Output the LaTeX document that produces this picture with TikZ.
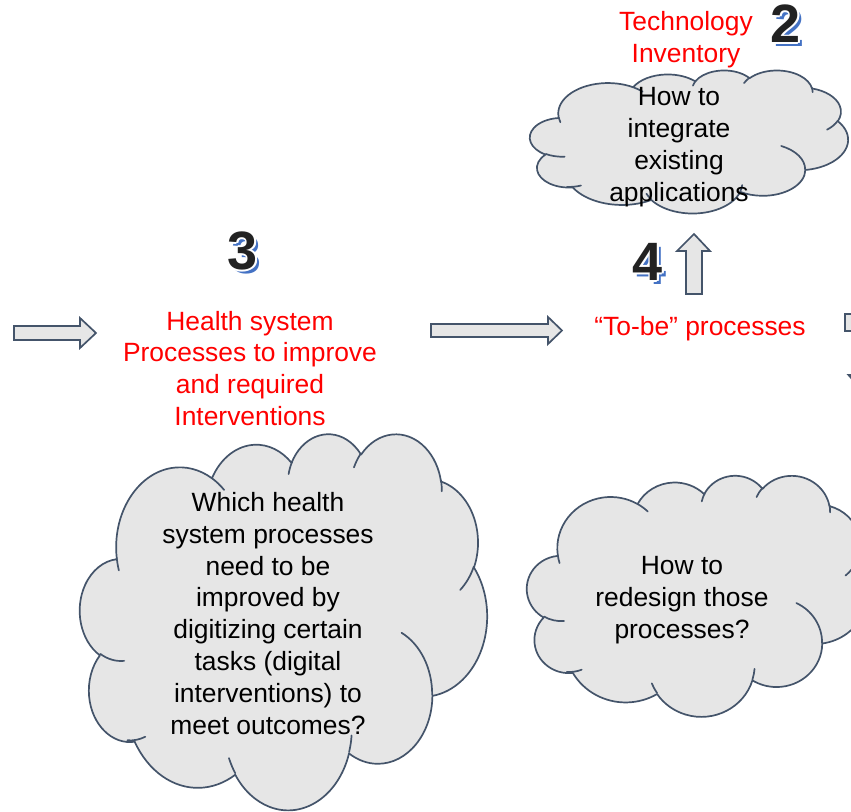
\documentclass[tikz,border=0pt]{standalone}
\usepackage{fontspec}
\setmainfont{Liberation Sans}
\usepackage{xcolor}
\definecolor{edgeblue}{HTML}{44546A}
\definecolor{puffgray}{HTML}{E6E6E6}
\definecolor{shadowblue}{HTML}{4472C4}
\definecolor{digitblack}{HTML}{222222}
\usepackage{tikz}
\usetikzlibrary{positioning}

\newcommand\labelfont{\fontsize{26.4}{31.9}\selectfont}
\newcommand\digitfont{\fontsize{54}{60}\selectfont\bfseries}

% one lobe of the cloud outline, angles as seen on the page
\newcommand\puff[4]{%
  \pgfextra{%
    \pgfmathsetmacro\puffa{atan2((#1)*sin(#3),(#2)*cos(#3))}%
    \pgfmathsetmacro\puffb{atan2((#1)*sin((#3)+(#4)),(#2)*cos((#3)+(#4)))}%
    \pgfmathsetmacro\puffb{\puffb<\puffa ? \puffb+360 : \puffb}%
    \global\let\puffa\puffa \global\let\puffb\puffb}%
  arc[x radius=#1, y radius=#2, start angle=\puffa, end angle=\puffb]}

% cloud in a box: left, top, width, height
\newcommand\puffcloud[4]{%
  \begin{scope}[shift={(#1,#2)}, xscale=#3/43.2, yscale=#4/43.2]
    \filldraw[puffbody] (3.900,14.370)
      \puff{6.753}{9.190}{-190.4875}{123.7805}
      \puff{5.333}{7.267}{-144.1024}{89.9452}
      \puff{4.365}{5.945}{-145.8079}{99.7230}
      \puff{4.857}{6.595}{-130.9861}{117.2417}
      \puff{5.333}{7.273}{-78.7089}{109.0269}
      \puff{6.775}{9.220}{-46.2673}{130.2690}
      \puff{5.785}{7.867}{0.6250}{114.0333}
      \puff{6.752}{9.215}{22.4516}{115.1726}
      \puff{7.720}{10.543}{66.2426}{75.7110}
      \puff{4.360}{5.918}{-274.9421}{146.7356}
      \puff{4.345}{5.945}{-246.8285}{152.5189}
      -- cycle;
    \draw[puffedge]
      (4.693,26.177) \puff{4.345}{5.945}{86.742}{26.4295}
      (6.928,34.899) \puff{4.360}{5.918}{73.614}{19.1417}
      (16.478,39.090) \puff{6.752}{9.215}{137.6242}{14.0811}
      (28.827,34.751) \puff{6.752}{9.215}{6.4533}{15.9984}
      (34.129,22.954) \puff{5.785}{7.867}{-70.2924}{70.9174}
      (41.798,15.354) \puff{5.333}{7.273}{30.3180}{27.7515}
      (38.324,5.426) \puff{4.857}{6.595}{-13.7443}{14.8589}
      (29.078,3.952) \puff{4.857}{6.595}{-149.1815}{18.1954}
      (22.141,4.720) \puff{4.365}{5.945}{-163.4943}{17.6864}
      (14.000,5.192) \puff{6.753}{9.190}{-66.7070}{12.3194}
      (4.127,15.789) \puff{6.753}{9.190}{157.6544}{11.8582};
  \end{scope}}

% step number with white rim and blue shadow: name, position, digit
\newcommand\stepdigit[3]{%
  \node[digitshadow, xshift=3.5pt, yshift=-3.5pt] at (#2) {#3};
  \foreach \hx/\hy in {1.6/0,-1.6/0,0/1.6,0/-1.6,1.1/1.1,-1.1/1.1,1.1/-1.1,-1.1/-1.1}
    \node[digithalo, xshift=\hx pt, yshift=\hy pt] at (#2) {#3};
  \node[digitface] (#1) at (#2) {#3};
}

\tikzset{
  puffbody/.style={draw=edgeblue, fill=puffgray, line width=1.7pt, line join=round},
  puffedge/.style={draw=edgeblue, line width=1.7pt, line cap=round},
  blockarrow/.style={draw=edgeblue, fill=puffgray, line width=1.7pt, line join=miter},
  redlabel/.style={text=red, align=center, font=\labelfont, inner sep=0pt},
  puffnote/.style={text=black, align=center, font=\labelfont, inner sep=0pt},
  digitshadow/.style={text=shadowblue, font=\digitfont, inner sep=0pt},
  digithalo/.style={text=white, font=\digitfont, inner sep=0pt},
  digitface/.style={text=digitblack, font=\digitfont, inner sep=0pt},
}

\begin{document}
\begin{tikzpicture}[x=1pt, y=-1pt]
    \useasboundingbox (0,0) rectangle (851,811);
    \clip (0,0) rectangle (851,811);

    % clouds
    \puffcloud{530}{70}{318}{143}
    \puffcloud{80}{433}{407}{376}
    \puffcloud{527}{475}{341}{241}

    % block arrows
    \draw[blockarrow] (14,326) -- (80,326) -- (80,318) -- (96,333) -- (80,348) -- (80,340) -- (14,340) -- cycle;
    \draw[blockarrow] (431,324) -- (548,324) -- (548,317) -- (562,330.5) -- (548,344) -- (548,337) -- (431,337) -- cycle;
    \draw[blockarrow] (686,294) -- (686,251) -- (677,251) -- (694,234) -- (710,251) -- (702,251) -- (702,294) -- cycle;
    \draw[blockarrow] (845,314) -- (890,314) -- (890,331) -- (845,331) -- cycle;
    \draw[blockarrow] (848.5,375) -- (890,375) -- (869,398) -- cycle;

    % labels
    \node[redlabel] (inventory) at (686,39.5) {Technology\\Inventory};
    \node[redlabel] (health) at (250,368.5) {Health system\\Processes to improve\\and required\\Interventions};
    \node[redlabel] (tobe) at (700,329) {“To-be” processes};

    \node[puffnote] (integrate) at (679,147.5) {How to\\integrate\\existing\\applications};
    \node[puffnote] (which) at (268,613.5) {Which health\\system processes\\need to be\\improved by\\digitizing certain\\tasks (digital\\interventions) to\\meet outcomes?};
    \node[puffnote] (redesign) at (682,600.5) {How to\\redesign those\\processes?};

    % step numbers
    \stepdigit{two}{786,24}{2}
    \stepdigit{three}{243,251}{3}
    \stepdigit{four}{648,262}{4}
\end{tikzpicture}
\end{document}
